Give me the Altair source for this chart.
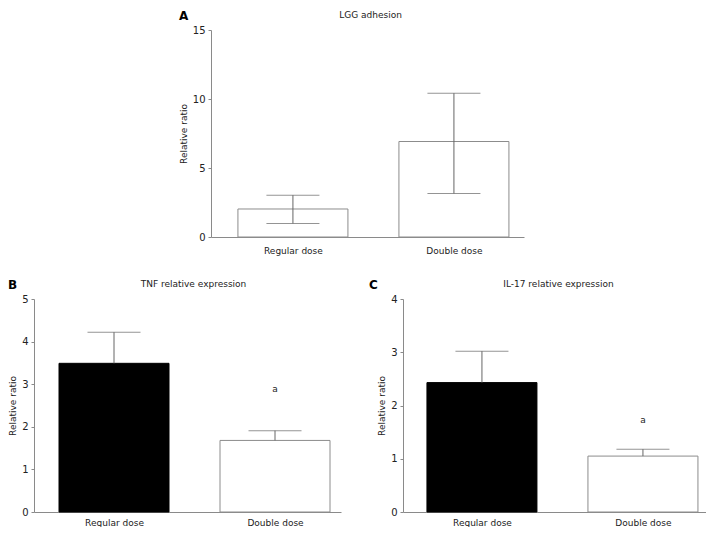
import altair as alt
import pandas as pd

# ---------------- data ----------------
categories = ["Regular dose", "Double dose"]

lgg_mean = [2.03, 6.92]
lgg_low = [0.98, 3.15]
lgg_high = [3.03, 10.42]

tnf_mean = [3.49, 1.68]
tnf_high = [4.22, 1.91]
tnf_sig = ["", "a"]
tnf_sig_y = [0.0, 2.88]

il17_mean = [2.43, 1.05]
il17_high = [3.02, 1.18]
il17_sig = ["", "a"]
il17_sig_y = [0.0, 1.73]

# ---------------- style ----------------
FONT = "DejaVu Sans"
TXT = "#222222"
AX = "#8a8a8a"
ERR = "#666666"
BAR_W = 110
CAP_W = 53


def make_panel(df, title, title_x, letter, letter_x, ymax, tick_vals, width,
               height, x_range, pt_pad, pt_align, label_pad, fills, strokes,
               show_low, sig, y_offset=0):
    x = alt.X("cat:N", sort=categories, title=None,
              scale=alt.Scale(type="point", range=x_range, padding=pt_pad,
                              align=pt_align),
              axis=alt.Axis(labelAngle=0, ticks=False, labelPadding=label_pad,
                            domainColor=AX, labelColor=TXT, labelFont=FONT,
                            labelFontSize=9))

    def y(field):
        return alt.Y(f"{field}:Q", title="Relative ratio",
                     scale=alt.Scale(domain=[0, ymax], nice=False, zero=True),
                     axis=alt.Axis(values=tick_vals, grid=False, tickSize=3,
                                   tickColor=AX, domainColor=AX, labelPadding=3,
                                   titlePadding=4, labelColor=TXT,
                                   titleColor=TXT, labelFont=FONT,
                                   titleFont=FONT, labelFontSize=10,
                                   titleFontSize=9, titleFontWeight="normal",
                                   offset=y_offset))

    base = alt.Chart(df)
    bars = base.mark_bar(size=BAR_W, strokeWidth=1).encode(
        x=x, y=y("mean"),
        fill=alt.Fill("cat:N", scale=alt.Scale(domain=categories, range=fills), legend=None),
        stroke=alt.Stroke("cat:N", scale=alt.Scale(domain=categories, range=strokes), legend=None),
    )
    stem = base.mark_rule(color=ERR, strokeWidth=1).encode(
        x=x, y=y("low"), y2="high:Q")
    cap_hi = base.mark_tick(size=CAP_W, thickness=1, color=ERR).encode(
        x=x, y=y("high"))
    layers = [bars, stem, cap_hi]
    if show_low:
        cap_lo = base.mark_tick(size=CAP_W, thickness=1, color=ERR).encode(
            x=x, y=y("low"))
        layers.append(cap_lo)
    if sig:
        sig_txt = base.transform_filter(alt.datum.sig != "").mark_text(
            font=FONT, fontSize=9, color=TXT, baseline="middle").encode(
            x=x, y=y("sig_y"), text="sig:N")
        layers.append(sig_txt)
    lab = alt.Chart(pd.DataFrame({"t": [letter]})).mark_text(
        font=FONT, fontSize=12, fontWeight="bold", color="#000000",
        align="left", baseline="middle").encode(
        x=alt.value(letter_x), y=alt.value(-14), text="t:N")
    ttl = alt.Chart(pd.DataFrame({"t": [title]})).mark_text(
        font=FONT, fontSize=9, color=TXT, align="center",
        baseline="middle").encode(
        x=alt.value(title_x), y=alt.value(-15), text="t:N")
    layers += [lab, ttl]
    return alt.layer(*layers).properties(width=width, height=height)


df_a = pd.DataFrame({"cat": categories, "mean": lgg_mean,
                     "low": lgg_low, "high": lgg_high})
df_b = pd.DataFrame({"cat": categories, "mean": tnf_mean, "low": tnf_mean,
                     "high": tnf_high, "sig": tnf_sig, "sig_y": tnf_sig_y})
df_c = pd.DataFrame({"cat": categories, "mean": il17_mean, "low": il17_mean,
                     "high": il17_high, "sig": il17_sig, "sig_y": il17_sig_y})

A_SHIFT = 177   # horizontal offset of panel A's axis from panel B's axis
A_W = 313
panel_a = make_panel(df_a, "LGG adhesion", A_SHIFT + A_W / 2 + 3, "A",
                     A_SHIFT - 32, 15, [0, 5, 10, 15], A_SHIFT + A_W, 207,
                     [A_SHIFT, A_SHIFT + A_W], 0.472, 0.539, 9,
                     ["#ffffff", "#ffffff"], ["#8c8c8c", "#8c8c8c"],
                     True, False, y_offset=-A_SHIFT)
panel_b = make_panel(df_b, "TNF relative expression", 307 / 2 + 6, "B", -26,
                     5, [0, 1, 2, 3, 4, 5], 307, 213, [0, 307], 0.4534, 0.548,
                     6, ["#000000", "#ffffff"], ["#000000", "#8c8c8c"],
                     False, True)
panel_c = make_panel(df_c, "IL-17 relative expression", 303 / 2 + 4, "C", -34,
                     4, [0, 1, 2, 3, 4], 303, 213, [0, 303], 0.441, 0.556,
                     6, ["#000000", "#ffffff"], ["#000000", "#8c8c8c"],
                     False, True)

row2 = alt.hconcat(panel_b, panel_c, spacing=62, bounds="flush").resolve_scale(
    fill="independent", stroke="independent")
chart = alt.vconcat(panel_a, row2, spacing=24).resolve_scale(
    fill="independent", stroke="independent").properties(
    padding={"left": 0, "top": 2, "right": 0, "bottom": 0}
).configure(font=FONT).configure_view(stroke=None)

chart.save("out.html", embed_options={"renderer": "svg", "actions": False})
